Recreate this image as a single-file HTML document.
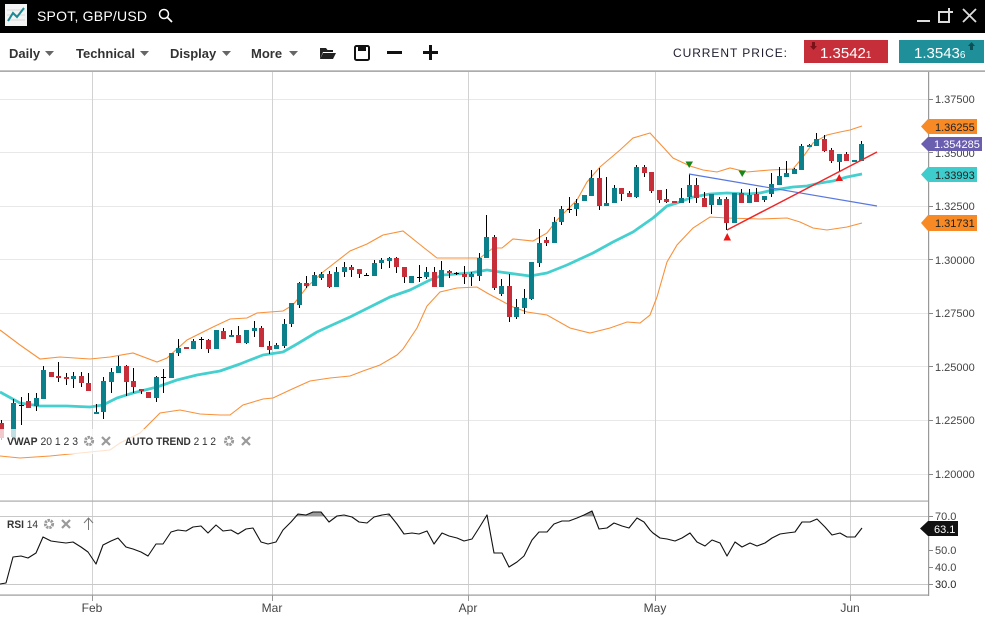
<!DOCTYPE html>
<html><head><meta charset="utf-8"><style>
html,body{margin:0;padding:0;background:#fff;}
body{width:985px;height:620px;overflow:hidden;}
svg{display:block;font-family:"Liberation Sans",sans-serif;}
</style></head><body>
<svg width="985" height="620" viewBox="0 0 985 620" xmlns="http://www.w3.org/2000/svg">
<rect x="0" y="0" width="985" height="620" fill="#fff"/>
<!-- header -->
<rect x="0" y="0" width="985" height="33" fill="#000"/>
<rect x="5" y="4" width="22" height="22" fill="#f4f4f4"/>
<path d="M7 10H25M7 15H25M7 20H25" stroke="#d8d8d8" stroke-width="1"/>
<polyline points="8,21 13,13 17,17 24,8" fill="none" stroke="#1a8a94" stroke-width="2"/>
<text x="37" y="21" fill="#fff" font-size="14" textLength="110" lengthAdjust="spacing">SPOT, GBP/USD</text>
<circle cx="164" cy="14" r="4.5" fill="none" stroke="#fff" stroke-width="1.5"/>
<path d="M167.5 17.5L172 22" stroke="#fff" stroke-width="1.8"/>
<rect x="917" y="20" width="13" height="2" fill="#ddd"/>
<rect x="939" y="12" width="10" height="10" fill="none" stroke="#ddd" stroke-width="2"/>
<path d="M949 8V16M945 12H953" stroke="#ddd" stroke-width="2"/>
<path d="M963 9L976 22M976 9L963 22" stroke="#ddd" stroke-width="1.8"/>
<!-- toolbar -->
<g font-size="13" font-weight="bold" fill="#333">
<text x="9" y="58">Daily</text>
<text x="76" y="58">Technical</text>
<text x="170" y="58">Display</text>
<text x="251" y="58">More</text>
</g>
<g fill="#666">
<path d="M45 51H54L49.5 56Z"/>
<path d="M140 51H149L144.5 56Z"/>
<path d="M222 51H231L226.5 56Z"/>
<path d="M289 51H298L293.5 56Z"/>
</g>
<path d="M320 48H326L327.5 50H333V52H323L320 59Z" fill="#222"/>
<path d="M323 53H336L333 59H320Z" fill="#222"/>
<rect x="355" y="46" width="14" height="14" rx="1.5" fill="none" stroke="#111" stroke-width="2"/>
<rect x="358" y="46" width="8" height="5" fill="#111"/>
<rect x="358" y="54" width="8" height="5" fill="#fff"/>
<rect x="387" y="51" width="15" height="3" fill="#111"/>
<rect x="423" y="51" width="15" height="3" fill="#111"/>
<rect x="429" y="45" width="3" height="15" fill="#111"/>
<text x="673" y="57" font-size="12" textLength="114" lengthAdjust="spacing" fill="#1d1d2d">CURRENT PRICE:</text>
<rect x="804" y="40" width="84" height="23" fill="#c62f3a"/>
<path d="M812 42V46H810L813.5 50L817 46H815V42Z" fill="#7a1018"/>
<text x="820" y="58" font-size="15" fill="#fff">1.3542<tspan font-size="10">1</tspan></text>
<rect x="899" y="40" width="85" height="23" fill="#1f8f99"/>
<path d="M970 50V46H968L971.5 42L975 46H973V50Z" fill="#0b4f57"/>
<text x="914" y="58" font-size="15" fill="#fff">1.3543<tspan font-size="10">6</tspan></text>
<rect x="0" y="70.5" width="985" height="1.2" fill="#888"/>
<!-- grid -->
<g stroke="#e8e8e8" stroke-width="1">
<path d="M0 99.5H928M0 152.5H928M0 206.5H928M0 259.5H928M0 313.5H928M0 366.5H928M0 420.5H928M0 474.5H928"/>
</g>
<g stroke="#d2d2d2" stroke-width="1">
<path d="M92.5 72V600M272.5 72V600M468.5 72V600M655.5 72V600M850.5 72V600"/>
</g>
<!-- bands -->
<g fill="none" stroke="#f8913a" stroke-width="1.1">
<path d="M0 330L20 345L40 359L60 357L90 359L110 357L133 353L157 362L167 358L187 340L213 327L230 319L247 318L257 313L283 311L293 305L307 287L323 272L350 251L367 244L383 235L403 231L423 247L437 258L460 258L480 258L493 248L502 248L513 239L533 241L547 233L557 220L577 200L587 182L600 167L620 150L633 138L650 133L663 147L673 158L690 166L703 170L717 172L730 168L747 172L770 170L793 169L803 157L813 143L827 135L840 132L850 130L862 126"/>
<path d="M0 456L20 458L50 456L80 453L110 450L120 443L140 433L160 413L180 410L200 414L220 415L230 415L243 405L263 399L273 398L290 390L310 381L330 378L350 376L363 371L380 365L397 355L403 349L417 328L427 306L440 292L457 288L477 287L487 293L500 300L513 307L527 312L547 315L570 328L590 333L610 328L627 322L640 323L650 315L657 297L667 262L677 245L693 228L710 217L727 218L760 219L787 218L800 222L813 228L827 230L847 227L862 223"/>
</g>
<path d="M0 392L20 403L40 406L67 406L90 407L103 405L117 398L133 393L157 387L177 380L197 375L220 371L240 364L250 360L263 355L283 352L297 344L317 332L330 326L350 317L370 307L390 297L410 290L430 280L443 275L470 273L487 270L500 272L530 276L547 273L567 265L593 253L613 242L633 232L653 218L667 206L677 203L693 197L710 194L727 193L747 194L760 193L773 190L793 187L807 186L820 183L833 181L847 177L862 174" fill="none" stroke="#45cfcf" stroke-width="2.8" stroke-linejoin="round"/>
<!-- wicks -->
<path stroke="#000" stroke-width="1" fill="none" d="M1.5 420V440M13.5 399V440M21.5 397V425M28.5 393V408M36.5 393V411M43.5 366V399M51.5 372V377M58.5 362V382M66.5 373V385M73.5 372V388M81.5 372V387M88.5 373V391M96.5 404V414M103.5 377V419M111.5 368V393M118.5 356V373M126.5 365V396M133.5 368V393M141.5 389V394M148.5 392V398M156.5 376V402M163.5 369V393M171.5 353V378M178.5 339V356M186.5 347V349M193.5 339V349M201.5 337V349M208.5 339V353M216.5 330V349M223.5 328V339M231.5 330V337M238.5 326V343M246.5 330V344M254.5 321V337M261.5 326V347M269.5 341V354M276.5 343V349M284.5 319V348M291.5 303V327M299.5 282V308M306.5 276V288M314.5 272V286M321.5 272V280M329.5 271V288M336.5 267V287M344.5 262V277M351.5 265V277M359.5 269V278M366.5 273V276M374.5 260V276M381.5 258V269M389.5 257V268M396.5 257V273M404.5 267V283M411.5 276V283M419.5 265V282M426.5 267V279M434.5 267V287M441.5 261V287M449.5 270V278M456.5 272V275M464.5 266V284M471.5 272V286M479.5 253V281M486.5 215V258M494.5 235V290M501.5 279V296M509.5 274V322M516.5 299V319M524.5 289V314M531.5 262V300M539.5 229V267M546.5 237V246M554.5 217V243M561.5 206V225M569.5 197V213M576.5 199V216M584.5 195V201M591.5 170V196M599.5 168V210M606.5 177V206M614.5 185V203M621.5 188V201M629.5 191V197M636.5 165V198M644.5 165V177M651.5 172V193M659.5 190V203M666.5 189V203M674.5 201V203M681.5 188V203M689.5 174V203M696.5 178V203M704.5 192V207M711.5 194V214M719.5 197V205M726.5 197V230M734.5 193V223M741.5 189V203M749.5 189V203M756.5 188V202M764.5 196V202M771.5 173V197M779.5 167V185M786.5 161V177M794.5 168V174M801.5 144V170M809.5 144V147M816.5 133V146M824.5 135V152M831.5 148V163M839.5 154V171M846.5 152V161M854.5 160V162M861.5 141V161"/>
<!-- teal bodies -->
<g fill="#0b7f8a">
<rect x="11" y="403" width="5" height="34"/><rect x="34" y="398" width="5" height="8"/><rect x="41" y="370" width="5" height="29"/><rect x="71" y="376" width="5" height="3"/><rect x="94" y="412" width="5" height="2"/><rect x="101" y="381" width="5" height="31"/><rect x="109" y="372" width="5" height="10"/><rect x="116" y="366" width="5" height="7"/><rect x="154" y="377" width="5" height="21"/><rect x="169" y="353" width="5" height="25"/><rect x="176" y="348" width="5" height="5"/><rect x="191" y="341" width="5" height="8"/><rect x="214" y="330" width="5" height="19"/><rect x="229" y="335" width="5" height="2"/><rect x="244" y="330" width="5" height="13"/><rect x="252" y="328" width="5" height="3"/><rect x="274" y="345" width="5" height="4"/><rect x="282" y="324" width="5" height="22"/><rect x="289" y="303" width="5" height="21"/><rect x="297" y="283" width="5" height="22"/><rect x="312" y="275" width="5" height="11"/><rect x="319" y="274" width="5" height="4"/><rect x="334" y="272" width="5" height="15"/><rect x="342" y="267" width="5" height="5"/><rect x="372" y="263" width="5" height="13"/><rect x="379" y="260" width="5" height="3"/><rect x="387" y="258" width="5" height="3"/><rect x="409" y="276" width="5" height="7"/><rect x="424" y="272" width="5" height="5"/><rect x="439" y="270" width="5" height="17"/><rect x="469" y="274" width="5" height="3"/><rect x="477" y="258" width="5" height="18"/><rect x="484" y="237" width="5" height="21"/><rect x="499" y="286" width="5" height="8"/><rect x="514" y="307" width="5" height="10"/><rect x="522" y="298" width="5" height="10"/><rect x="529" y="262" width="5" height="37"/><rect x="537" y="243" width="5" height="20"/><rect x="552" y="222" width="5" height="21"/><rect x="559" y="209" width="5" height="13"/><rect x="574" y="203" width="5" height="6"/><rect x="582" y="195" width="5" height="6"/><rect x="589" y="178" width="5" height="18"/><rect x="604" y="203" width="5" height="3"/><rect x="612" y="188" width="5" height="15"/><rect x="634" y="167" width="5" height="30"/><rect x="679" y="198" width="5" height="5"/><rect x="687" y="185" width="5" height="12"/><rect x="709" y="194" width="5" height="11"/><rect x="717" y="199" width="5" height="6"/><rect x="732" y="193" width="5" height="30"/><rect x="747" y="195" width="5" height="8"/><rect x="762" y="196" width="5" height="4"/><rect x="769" y="184" width="5" height="10"/><rect x="777" y="176" width="5" height="9"/><rect x="784" y="173" width="5" height="4"/><rect x="792" y="169" width="5" height="5"/><rect x="799" y="146" width="5" height="24"/><rect x="807" y="145" width="5" height="2"/><rect x="814" y="139" width="5" height="7"/><rect x="837" y="154" width="5" height="8"/><rect x="852" y="160" width="5" height="2"/><rect x="859" y="144" width="5" height="17"/>
</g>
<!-- red bodies -->
<g fill="#c62f3a">
<rect x="-1" y="423" width="5" height="15"/><rect x="26" y="401" width="5" height="7"/><rect x="49" y="372" width="5" height="5"/><rect x="56" y="376" width="5" height="2"/><rect x="64" y="377" width="5" height="2"/><rect x="79" y="376" width="5" height="7"/><rect x="86" y="383" width="5" height="8"/><rect x="124" y="366" width="5" height="16"/><rect x="131" y="381" width="5" height="6"/><rect x="139" y="389" width="5" height="2"/><rect x="146" y="392" width="5" height="6"/><rect x="184" y="347" width="5" height="2"/><rect x="206" y="340" width="5" height="9"/><rect x="221" y="331" width="5" height="8"/><rect x="236" y="335" width="5" height="8"/><rect x="259" y="328" width="5" height="19"/><rect x="267" y="346" width="5" height="4"/><rect x="304" y="283" width="5" height="3"/><rect x="327" y="274" width="5" height="13"/><rect x="349" y="267" width="5" height="3"/><rect x="357" y="269" width="5" height="5"/><rect x="394" y="258" width="5" height="9"/><rect x="402" y="267" width="5" height="10"/><rect x="432" y="272" width="5" height="15"/><rect x="447" y="271" width="5" height="2"/><rect x="462" y="274" width="5" height="3"/><rect x="492" y="237" width="5" height="51"/><rect x="507" y="286" width="5" height="31"/><rect x="544" y="240" width="5" height="3"/><rect x="597" y="178" width="5" height="28"/><rect x="619" y="188" width="5" height="6"/><rect x="627" y="193" width="5" height="4"/><rect x="642" y="167" width="5" height="6"/><rect x="649" y="172" width="5" height="19"/><rect x="657" y="190" width="5" height="10"/><rect x="664" y="199" width="5" height="3"/><rect x="672" y="201" width="5" height="2"/><rect x="694" y="185" width="5" height="13"/><rect x="702" y="198" width="5" height="9"/><rect x="724" y="199" width="5" height="24"/><rect x="739" y="193" width="5" height="10"/><rect x="754" y="194" width="5" height="8"/><rect x="822" y="139" width="5" height="12"/><rect x="829" y="150" width="5" height="11"/><rect x="844" y="154" width="5" height="7"/>
</g>
<g fill="#000">
<rect x="19" y="405" width="5" height="1"/><rect x="161" y="377" width="5" height="1"/><rect x="199" y="339" width="5" height="1"/><rect x="364" y="275" width="5" height="1"/><rect x="417" y="277" width="5" height="1"/><rect x="454" y="273" width="5" height="1"/><rect x="567" y="209" width="5" height="1"/>
</g>
<!-- trend lines -->
<path d="M689 174L877 206" stroke="#5877e0" stroke-width="1.2" fill="none"/>
<path d="M727 230L877 152" stroke="#f02525" stroke-width="1.5" fill="none"/>
<path d="M685.5 161.5H693L689.2 168Z" fill="#18861a"/>
<path d="M738.5 170.5H746L742.2 177Z" fill="#18861a"/>
<path d="M723.5 240.5H731L727.2 233Z" fill="#f01515"/>
<path d="M835.5 181H843L839.2 174Z" fill="#f01515"/>
<!-- legend -->
<rect x="0" y="429" width="258" height="25" fill="#fff" fill-opacity="0.75"/>
<g font-size="11" fill="#333">
<text x="7" y="445" textLength="71" lengthAdjust="spacingAndGlyphs"><tspan font-weight="bold">VWAP</tspan> 20 1 2 3</text>
<text x="125" y="445" textLength="91" lengthAdjust="spacingAndGlyphs"><tspan font-weight="bold">AUTO TREND</tspan> 2 1 2</text>
<text x="7" y="528" textLength="31" lengthAdjust="spacingAndGlyphs"><tspan font-weight="bold">RSI</tspan> 14</text>
</g>
<g fill="none" stroke="#9a9a9a">
<circle cx="89" cy="441" r="3.6" stroke-width="3" stroke-dasharray="2.2 0.9"/>
<circle cx="229" cy="441" r="3.6" stroke-width="3" stroke-dasharray="2.2 0.9"/>
<circle cx="49" cy="524" r="3.6" stroke-width="3" stroke-dasharray="2.2 0.9"/>
<path d="M102 437L110 445M110 437L102 445M242 437L250 445M250 437L242 445M62 520L70 528M70 520L62 528" stroke-width="2.2"/>
<path d="M88.5 530V518M84 523L88.5 518L93 523" stroke="#777" stroke-width="1"/>
</g>
<!-- RSI panel -->
<rect x="0" y="500.5" width="928" height="1.2" fill="#aaa"/>
<path d="M0 516.5H928M0 584.5H928" stroke="#c8c8c8" stroke-width="1"/>
<path d="M295 516L298 514L306 515L313 512L321 512L325 516Z M583 516L584 515L592 511L594 516Z M486 516L487 514.5L488 516Z M387 516L389 514L391 516Z" fill="#9a9a9a"/>
<polyline fill="none" stroke="#111" stroke-width="1.1" stroke-linejoin="round" points="0,584 6,583 13,557 21,556 28,558 36,553 43,537 51,541 58,542 66,543 73,542 81,547 88,552 96,564 103,545 111,541 118,538 126,547 133,549 141,552 148,556 156,544 163,544 171,532 178,530 186,531 193,527 201,526 208,533 216,525 223,531 231,530 238,534 246,529 253,528 261,542 268,544 276,542 283,530 291,522 298,514 306,515 313,512 321,512 329,522 337,516 344,515 352,517 359,522 367,523 374,517 382,515 389,514 397,524 404,534 412,533 419,534 427,531 434,544 442,533 449,536 457,538 464,541 472,539 479,528 487,515 494,553 502,553 509,567 517,562 524,556 532,540 539,532 547,532 554,524 562,521 569,521 577,518 584,515 592,511 599,529 607,528 614,523 622,526 629,528 637,518 644,522 650,530 653,533 660,538 667,539 675,541 682,538 690,533 697,542 705,546 712,540 720,543 727,556 735,542 742,547 750,543 757,546 765,543 772,538 780,534 787,533 795,532 802,522 810,522 817,519 825,527 832,535 840,533 847,537 855,537 862,528"/>
<!-- axes -->
<rect x="928" y="72" width="1.2" height="524" fill="#999"/>
<rect x="0" y="594.5" width="929" height="1.2" fill="#999"/>
<path d="M92.5 595V601M272.5 595V601M468.5 595V601M655.5 595V601M850.5 595V601" stroke="#999"/>
<path d="M929 99.5H933M929 152.5H933M929 206.5H933M929 259.5H933M929 313.5H933M929 366.5H933M929 420.5H933M929 474.5H933M929 516.5H933M929 550.5H933M929 567.5H933M929 584.5H933" stroke="#888"/>
<g font-size="11" fill="#444">
<text x="935" y="103">1.37500</text>
<text x="935" y="157">1.35000</text>
<text x="935" y="210">1.32500</text>
<text x="935" y="264">1.30000</text>
<text x="935" y="317">1.27500</text>
<text x="935" y="371">1.25000</text>
<text x="935" y="424">1.22500</text>
<text x="935" y="478">1.20000</text>
<text x="935" y="520">70.0</text>
<text x="935" y="554">50.0</text>
<text x="935" y="571">40.0</text>
<text x="935" y="588" fill="#222">30.0</text>
</g>
<g font-size="12" fill="#444" text-anchor="middle">
<text x="92" y="612">Feb</text>
<text x="272" y="612">Mar</text>
<text x="468" y="612">Apr</text>
<text x="655" y="612">May</text>
<text x="850" y="612">Jun</text>
</g>
<!-- price tags -->
<path d="M921 126.5L928 119H977V134H928Z" fill="#f88a26"/>
<text x="935" y="131" font-size="11" fill="#222">1.36255</text>
<path d="M921 144L928 137H982V151H928Z" fill="#6a5eae"/>
<text x="934" y="148" font-size="11" fill="#fff">1.354285</text>
<path d="M921 174.5L928 167H977V182H928Z" fill="#3fcccc"/>
<text x="935" y="179" font-size="11" fill="#222">1.33993</text>
<path d="M921 223L928 215H977V231H928Z" fill="#f88a26"/>
<text x="935" y="227" font-size="11" fill="#222">1.31731</text>
<path d="M920 528.5L928 521H958V536H928Z" fill="#111"/>
<text x="934" y="533" font-size="11" fill="#fff">63.1</text>
</svg>
</body></html>
